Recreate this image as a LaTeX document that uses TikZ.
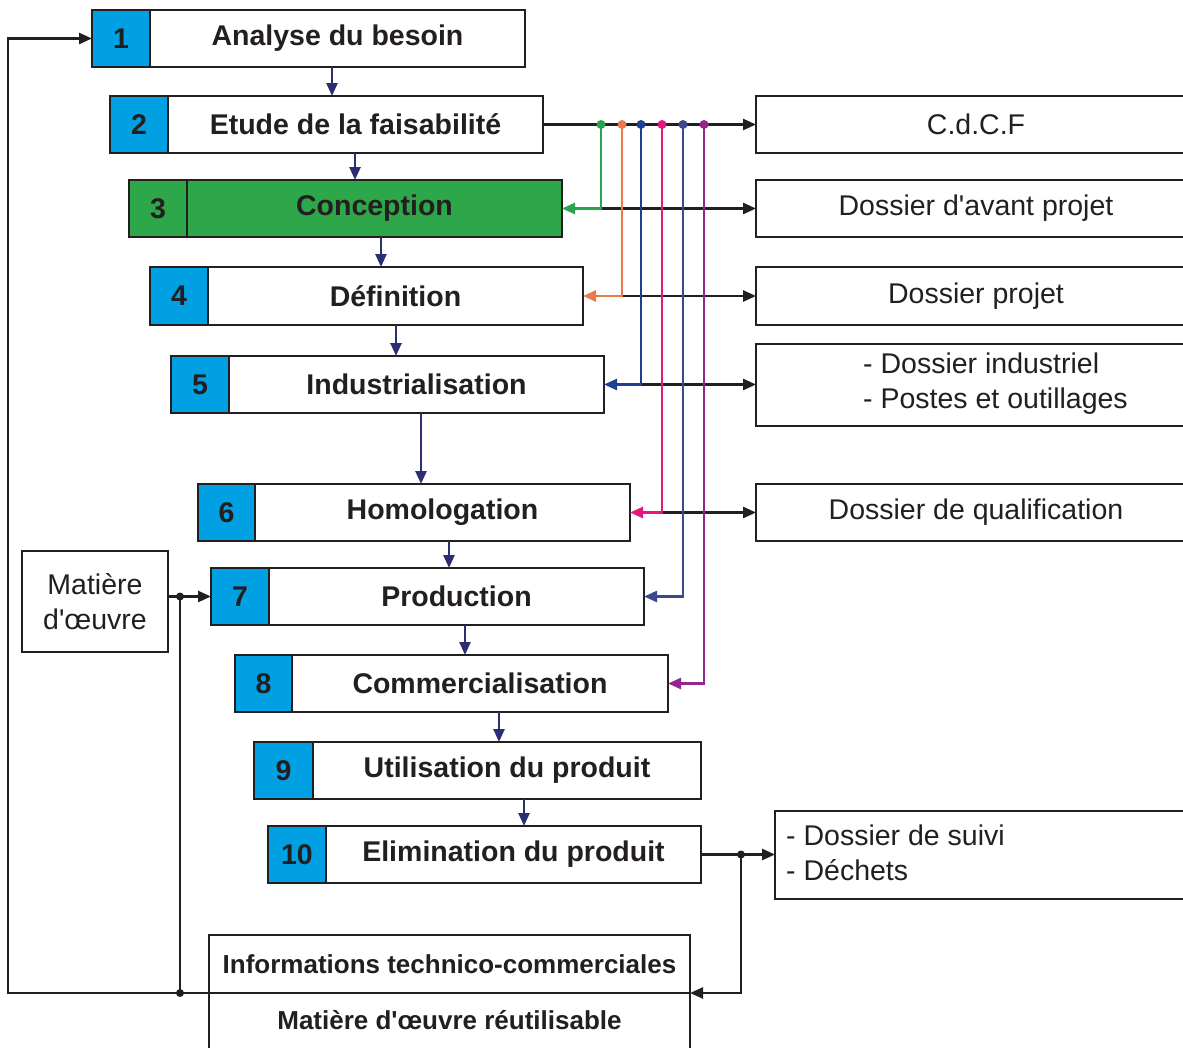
\documentclass[tikz,border=0pt]{standalone}
\usepackage{fontspec}
\setmainfont{Liberation Sans}[Ligatures=TeXOff]
\usetikzlibrary{arrows.meta}

\definecolor{ink}{HTML}{231F20}
\definecolor{navy}{HTML}{2B2E73}
\definecolor{cyanblue}{HTML}{00A0E3}
\definecolor{leaf}{HTML}{2EA64A}
\definecolor{cgreen}{HTML}{2BA24C}
\definecolor{corange}{HTML}{E87B4C}
\definecolor{cblue}{HTML}{1D3F94}
\definecolor{cmagenta}{HTML}{E2197A}
\definecolor{cindigo}{HTML}{3B4A8E}
\definecolor{cpurple}{HTML}{93278F}

\tikzset{
  box/.style={draw=ink, line width=2.5pt, rectangle, inner sep=0pt, outer sep=0pt, text=ink},
  bigbold/.style={font=\fontsize{28.5}{34}\selectfont\bfseries},
  numbox/.style={box, bigbold, fill=cyanblue, minimum width=58pt, minimum height=57pt, anchor=north west},
  stagebox/.style={box, bigbold, fill=white, minimum width=375pt, minimum height=57pt, anchor=west},
  outbox/.style={box, fill=white, anchor=north west, minimum width=440pt, minimum height=57pt,
    font=\fontsize{28.5}{35}\selectfont},
  listtext/.style={anchor=west, align=left, inner sep=0pt, text=ink, font=\fontsize{28.5}{35}\selectfont},
  infobox/.style={box, fill=white, anchor=north west, minimum width=481pt,
    font=\fontsize{26}{32}\selectfont\bfseries},
  tip/.style={-{Triangle[length=13pt,width=11pt]}},
  flow/.style={draw=navy, line width=2.5pt, tip},
  wire/.style={draw=ink, line width=2.5pt},
  feed/.style={line width=2.5pt},
}

\begin{document}
\begin{tikzpicture}[x=1pt, y=-1pt]
\useasboundingbox (0,0) rectangle (1183,1047);
\clip (0,0) rectangle (1183,1047);
\fill[white] (0,0) rectangle (1183,1047);

% life-cycle stages
\node[numbox] (n1) at (92,10) {1};
\node[stagebox] (b1) at (n1.east) {Analyse du besoin};
\node[numbox] (n2) at (110,96) {2};
\node[stagebox] (b2) at (n2.east) {Etude de la faisabilité};
\node[numbox, fill=leaf] (n3) at (129,180) {3};
\node[stagebox, fill=leaf] (b3) at (n3.east) {Conception};
\node[numbox, minimum height=58pt] (n4) at (150,267) {4};
\node[stagebox, minimum height=58pt] (b4) at (n4.east) {Définition};
\node[numbox] (n5) at (171,356) {5};
\node[stagebox] (b5) at (n5.east) {Industrialisation};
\node[numbox, minimum width=57pt] (n6) at (198,484) {6};
\node[stagebox] (b6) at (n6.east) {Homologation};
\node[numbox] (n7) at (211,568) {7};
\node[stagebox] (b7) at (n7.east) {Production};
\node[numbox, minimum width=57pt] (n8) at (235,655) {8};
\node[stagebox, minimum width=376pt] (b8) at (n8.east) {Commercialisation};
\node[numbox, minimum width=59pt] (n9) at (254,742) {9};
\node[stagebox, minimum width=388pt] (b9) at (n9.east) {Utilisation du produit};
\node[numbox] (n10) at (268,826) {10};
\node[stagebox] (b10) at (n10.east) {Elimination du produit};

% documents produced
\node[outbox] (r2) at (756,96) {C.d.C.F};
\node[outbox] (r3) at (756,180) {Dossier d'avant projet};
\node[outbox, minimum height=58pt] (r4) at (756,267) {Dossier projet};
\node[outbox, minimum height=82pt] (r5) at (756,344) {};
\node[listtext] (t5) at (863,384) {- Dossier industriel\\- Postes et outillages};
\node[outbox] (r6) at (756,484) {Dossier de qualification};
\node[outbox, minimum width=430pt, minimum height=88pt] (r10) at (775,811) {};
\node[listtext] (t10) at (786,853) {- Dossier de suivi\\- Déchets};

% raw material input
\node[box, fill=white, anchor=north west, minimum width=146pt, minimum height=101pt,
  align=center, font=\fontsize{28.5}{35}\selectfont] (mo) at (22,551) {Matière\\d'œuvre};

% recycled information / material
\node[infobox, minimum height=58pt] (it1) at (209,935) {Informations technico-commerciales};
\node[infobox, minimum height=72pt] (it2) at (209,993) {};
\node[inner sep=0pt, text=ink, font=\fontsize{26}{32}\selectfont\bfseries] (it2t) at (449.5,1020) {Matière d'œuvre réutilisable};

% stage-to-stage flow
\draw[flow] (b1.south -| 332,0) -- (b2.north -| 332,0);
\draw[flow] (b2.south -| 355,0) -- (b3.north -| 355,0);
\draw[flow] (b3.south -| 381,0) -- (b4.north -| 381,0);
\draw[flow] (b4.south -| 396,0) -- (b5.north -| 396,0);
\draw[flow] (b5.south -| 421,0) -- (b6.north -| 421,0);
\draw[flow] (b6.south -| 449,0) -- (b7.north -| 449,0);
\draw[flow] (b7.south -| 465,0) -- (b8.north -| 465,0);
\draw[flow] (b8.south -| 499,0) -- (b9.north -| 499,0);
\draw[flow] (b9.south -| 524,0) -- (b10.north -| 524,0);

% feasibility study distribution bus
\coordinate (d3) at (601,124.5);
\coordinate (d4) at (622,124.5);
\coordinate (d5) at (641,124.5);
\coordinate (d6) at (662,124.5);
\coordinate (d7) at (683,124.5);
\coordinate (d8) at (704,124.5);

\draw[wire, tip] (b2.east) -- (r2.west);
\draw[wire, tip] (d3 |- b3.east) -- (r3.west);
\draw[wire, tip] (d4 |- b4.east) -- (r4.west);
\draw[wire, tip] (d5 |- b5.east) -- (r5.west |- b5.east);
\draw[wire, tip] (d6 |- b6.east) -- (r6.west);

\draw[feed, cgreen, tip] (d3) |- (b3.east);
\draw[feed, corange, tip] (d4) |- (b4.east);
\draw[feed, cblue, tip] (d5) |- (b5.east);
\draw[feed, cmagenta, tip] (d6) |- (b6.east);
\draw[feed, cindigo, tip] (d7) |- (b7.east);
\draw[feed, cpurple, tip] (d8) |- (b8.east);

\fill[cgreen] (d3) circle (4.5pt);
\fill[corange] (d4) circle (4.5pt);
\fill[cblue] (d5) circle (4.5pt);
\fill[cmagenta] (d6) circle (4.5pt);
\fill[cindigo] (d7) circle (4.5pt);
\fill[cpurple] (d8) circle (4.5pt);

% end of life and feedback loop
\coordinate (sp) at (741,854.5);
\coordinate (lc) at (8,993);
\coordinate (fb) at (180,993);
\draw[wire, tip] (b10.east) -- (r10.west |- b10.east);
\draw[wire, tip] (sp) |- (it1.south east);
\draw[wire, tip] (it1.south west) -- (lc) |- (n1.west);
\draw[wire] (fb) -- (fb |- n7.west);
\draw[wire, tip] (mo.east |- n7.west) -- (n7.west);
\fill[ink] (sp) circle (4pt);
\fill[ink] (fb) circle (4pt);
\fill[ink] (fb |- n7.west) circle (4pt);
\end{tikzpicture}
\end{document}
